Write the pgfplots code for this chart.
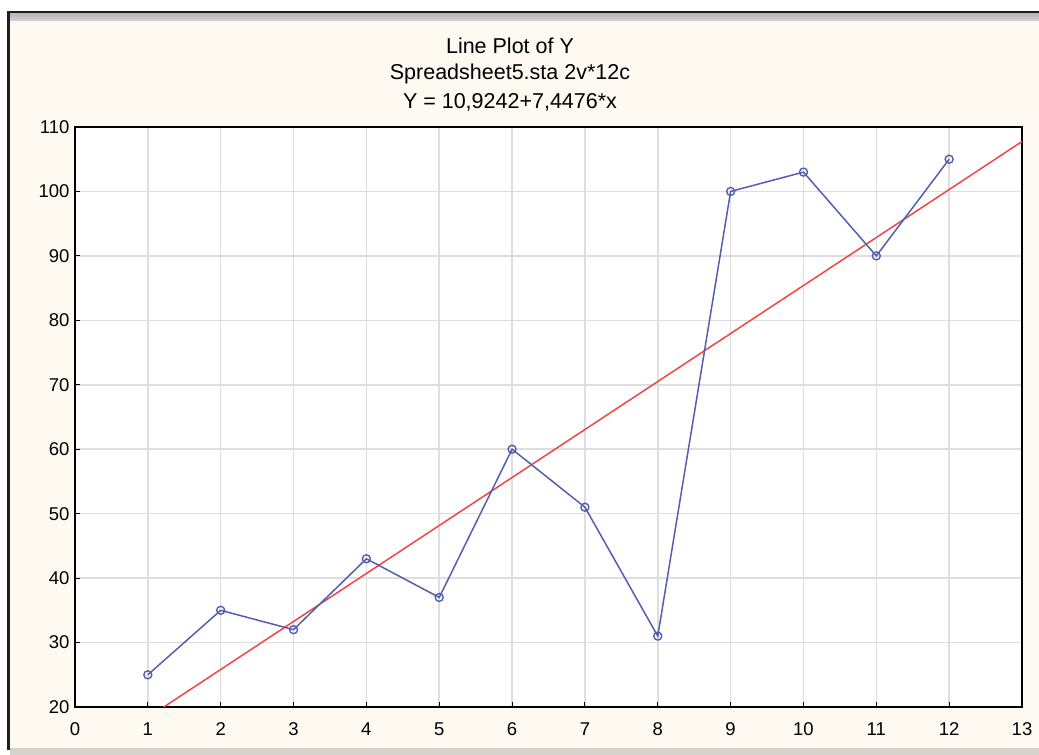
\documentclass[border=0pt]{standalone}
\usepackage{pgfplots}
\pgfplotsset{compat=1.18}
\usepackage{fontspec}
\setmainfont{Liberation Sans}
\definecolor{cream}{RGB}{254,250,242}
\definecolor{lineblue}{RGB}{85,95,175}
\definecolor{linered}{RGB}{240,70,70}
\definecolor{gridgrey}{RGB}{222,222,222}
\definecolor{wingrey}{RGB}{212,210,205}
\begin{document}
\begin{tikzpicture}
\path[use as bounding box] (0pt,0pt) rectangle (1039pt,755pt);
\fill[white] (0pt,0pt) rectangle (1039pt,755pt);
\fill[cream] (7pt,7pt) rectangle (1039pt,744pt);
% window frame
\fill[black!88] (7pt,741pt) rectangle (1039pt,744pt);
\shade[top color=gray!55, bottom color=gray!35] (10pt,734pt) rectangle (1039pt,741pt);
\fill[black!88] (7pt,5pt) rectangle (10pt,744pt);
\fill[wingrey] (10pt,0pt) rectangle (1039pt,7pt);
% titles
\node[font=\fontsize{21.5}{24}\selectfont] at (510pt,709pt) {Line Plot of Y};
\node[font=\fontsize{21.5}{24}\selectfont] at (510pt,681pt) {Spreadsheet5.sta 2v*12c};
\node[font=\fontsize{21.5}{24}\selectfont] at (510pt,653pt) {Y = 10,9242+7,4476*x};
\begin{axis}[
  at={(75pt,48pt)}, anchor=south west,
  width=947pt, height=580pt, scale only axis,
  xmin=0, xmax=13, ymin=20, ymax=110,
  xtick={0,1,...,13}, ytick={20,30,...,110},
  xtick pos=left, ytick pos=left,
  grid=major,
  major grid style={gridgrey, line width=1.5pt},
  axis line style={black, line width=1.3pt},
  tick style={black, line width=1pt},
  tick align=inside, major tick length=5pt,
  axis background/.style={fill=white},
  ticklabel style={font=\fontsize{18.5}{20}\selectfont},
  /pgf/number format/assume math mode=true,
  xticklabel style={yshift=-12pt},
  yticklabel style={xshift=-2pt},
  clip=true,
]
\addplot[linered, line width=1.5pt] coordinates {(0,10.9242) (13,107.7430)};
\addplot[lineblue, line width=1.5pt, mark=o, mark size=4pt, mark options={line width=1.4pt, fill=white}] coordinates {
(1,25) (2,35) (3,32) (4,43) (5,37) (6,60) (7,51) (8,31) (9,100) (10,103) (11,90) (12,105)
};
\end{axis}
\end{tikzpicture}
\end{document}
